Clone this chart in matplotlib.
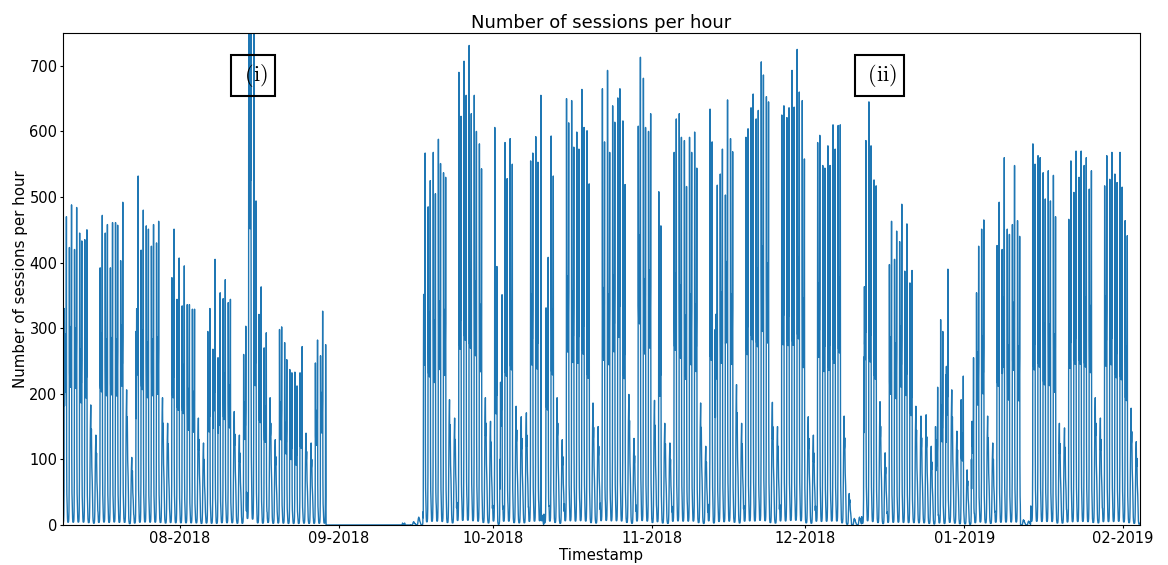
import numpy as np
import pandas as pd
import matplotlib
matplotlib.use('Agg')
import matplotlib.pyplot as plt
import matplotlib.dates as mdates

plt.rcParams['mathtext.fontset'] = 'cm'

# ---------------- data ----------------
first_day = '2018-07-09'          # Monday
# Peak of the morning burst, one per day (weekend days: the day's peak)
am_peak = [
    330, 423, 420, 445, 435, 183, 137,    # Jul 09
    392, 445, 392, 461, 403, 206, 103,    # Jul 16
    295, 419, 456, 425, 430, 194, 155,    # Jul 23
    377, 344, 334, 336, 329, 163, 125,    # Jul 30
    295, 268, 255, 345, 339, 173, 137,    # Aug 06
    260, 1000, 900, 321, 270, 194, 130,   # Aug 13
    298, 278, 237, 233, 232, 140, 125,    # Aug 20
    247, 258, 275, 0, 0, 0, 0,            # Aug 27
    0, 0, 0, 0, 0, 0, 0,                  # Sep 03
    0, 0, 0, 3, 0, 5, 12,                 # Sep 10
    20, 485, 568, 588, 537, 191, 163,     # Sep 17
    690, 707, 731, 655, 581, 194, 158,    # Sep 24
    606, 100, 583, 589, 181, 165, 171,    # Oct 01
    555, 592, 655, 331, 593, 194, 130,    # Oct 08
    650, 647, 599, 664, 601, 186, 150,    # Oct 15
    665, 693, 639, 651, 616, 199, 132,    # Oct 22
    608, 681, 600, 190, 508, 155, 125,    # Oct 29
    568, 627, 586, 591, 599, 186, 120,    # Nov 05
    634, 298, 535, 503, 589, 214, 155,    # Nov 12
    591, 636, 619, 706, 653, 187, 150,    # Nov 19
    625, 621, 693, 725, 647, 165, 137,    # Nov 26
    583, 548, 578, 610, 609, 166, 48,     # Dec 03
    10, 12, 256, 645, 526, 188, 110,      # Dec 10
    397, 405, 432, 387, 369, 181, 166,    # Dec 17
    168, 120, 150, 313, 229, 206, 143,    # Dec 24
    191, 84, 100, 354, 451, 166, 125,     # Dec 31
    426, 420, 451, 458, 464, 8, 6,        # Jan 07
    581, 563, 537, 540, 533, 155, 148,    # Jan 14
    466, 507, 530, 548, 512, 194, 163,    # Jan 21
    517, 527, 535, 568, 464, 178, 127,    # Jan 28
    127,                                  # Feb 04
]
# Peak of the afternoon burst, one per day
pm_peak = [
    470, 488, 484, 433, 450, 183, 137,
    472, 458, 461, 457, 492, 206, 103,
    532, 480, 451, 458, 463, 194, 155,
    451, 407, 395, 336, 329, 163, 125,
    330, 405, 354, 374, 344, 173, 137,
    303, 1050, 494, 363, 293, 194, 130,
    302, 252, 232, 212, 272, 140, 125,
    282, 326, 0, 0, 0, 0, 0,
    0, 0, 0, 0, 0, 0, 0,
    0, 0, 0, 3, 0, 5, 12,
    567, 525, 505, 551, 530, 191, 163,
    623, 655, 627, 600, 543, 194, 158,
    394, 351, 528, 550, 181, 165, 171,
    567, 553, 15, 408, 532, 194, 130,
    613, 576, 573, 606, 520, 186, 150,
    584, 568, 614, 665, 519, 199, 132,
    713, 606, 627, 190, 456, 155, 125,
    619, 591, 516, 568, 544, 186, 120,
    584, 518, 573, 648, 569, 214, 155,
    604, 657, 632, 686, 645, 187, 150,
    639, 636, 637, 660, 558, 165, 137,
    594, 544, 548, 573, 610, 166, 48,
    10, 12, 586, 578, 517, 188, 110,
    463, 448, 489, 459, 388, 181, 166,
    168, 120, 210, 295, 390, 206, 143,
    227, 84, 255, 425, 465, 166, 125,
    492, 560, 443, 548, 440, 8, 6,
    550, 560, 497, 494, 470, 155, 148,
    555, 570, 570, 560, 540, 194, 163,
    563, 568, 522, 515, 441, 178, 127,
    0,
]
# weekdays that look like weekend days (holidays / closures)
holidays = ['2018-10-05', '2018-11-01', '2018-12-24', '2018-12-25',
            '2019-01-01', '2018-12-10', '2018-12-11']

# typical share of the day's burst for each hour 0..23
weekday_share = [0.05, 0.025, 0.012, 0.01, 0.01, 0.01, 0.012, 0.02,
                 0.05, 0.16, 1.0, 0.55, 0.44, 0.62, 0.47, 0.52,
                 0.43, 0.6, 0.5, 0.58, 1.0, 0.22, 0.1, 0.07]
weekend_share = [0.1, 0.05, 0.03, 0.02, 0.02, 0.02, 0.02, 0.03,
                 0.06, 0.15, 0.4, 0.65, 0.8, 0.9, 1.0, 0.7,
                 0.72, 0.8, 0.62, 0.48, 0.42, 0.36, 0.26, 0.16]

series_start = '2018-07-09 04:00'
series_end = '2019-02-04 07:30'

# ---------------- build hourly series ----------------
days = pd.date_range(first_day, periods=len(am_peak), freq='D')
hol = set(pd.to_datetime(holidays))
times, vals = [], []
for d, a, p in zip(days, am_peak, pm_peak):
    weekend = d.dayofweek >= 5 or d in hol
    for h in range(24):
        if weekend:
            v = max(a, p) * weekend_share[h]
        else:
            base = a if h < 12 else p
            v = base * weekday_share[h]
        times.append(d + pd.Timedelta(hours=h))
        vals.append(v)
s = pd.Series(vals, index=pd.DatetimeIndex(times))
s = s[(s.index >= pd.Timestamp(series_start)) & (s.index <= pd.Timestamp(series_end))]

# ---------------- plot ----------------
fig = plt.figure(figsize=(11.68, 5.65), dpi=100)
ax = fig.add_axes([63/1168, 1 - 525/565, (1140 - 63)/1168, (525 - 33)/565])
ax.plot(s.index, s.values, color='#1f77b4', lw=1.0)

ax.set_xlim(pd.Timestamp(series_start), pd.Timestamp(series_end))
ax.set_ylim(0, 750)
ax.set_yticks(range(0, 701, 100))
ax.xaxis.set_major_locator(mdates.MonthLocator())
ax.xaxis.set_major_formatter(mdates.DateFormatter('%m-%Y'))
ax.tick_params(labelsize=10.5, length=2.5, pad=1.5)

ax.set_title('Number of sessions per hour', fontsize=13, pad=3.5)
ax.set_xlabel('Timestamp', fontsize=10.8, labelpad=1.5)
ax.set_ylabel('Number of sessions per hour', fontsize=10.8, labelpad=1)

box = dict(boxstyle='square,pad=0.33', fc='none', ec='black', lw=1.5)
ax.text(pd.Timestamp('2018-08-15 06:00'), 685, r'$\;(\mathrm{i})\;$',
        fontsize=16, ha='center', va='center', bbox=box)
ax.text(pd.Timestamp('2018-12-15 12:00'), 685, r'$\;(\mathrm{ii})\;$',
        fontsize=16, ha='center', va='center', bbox=box)

fig.savefig('out.png', dpi=100)
